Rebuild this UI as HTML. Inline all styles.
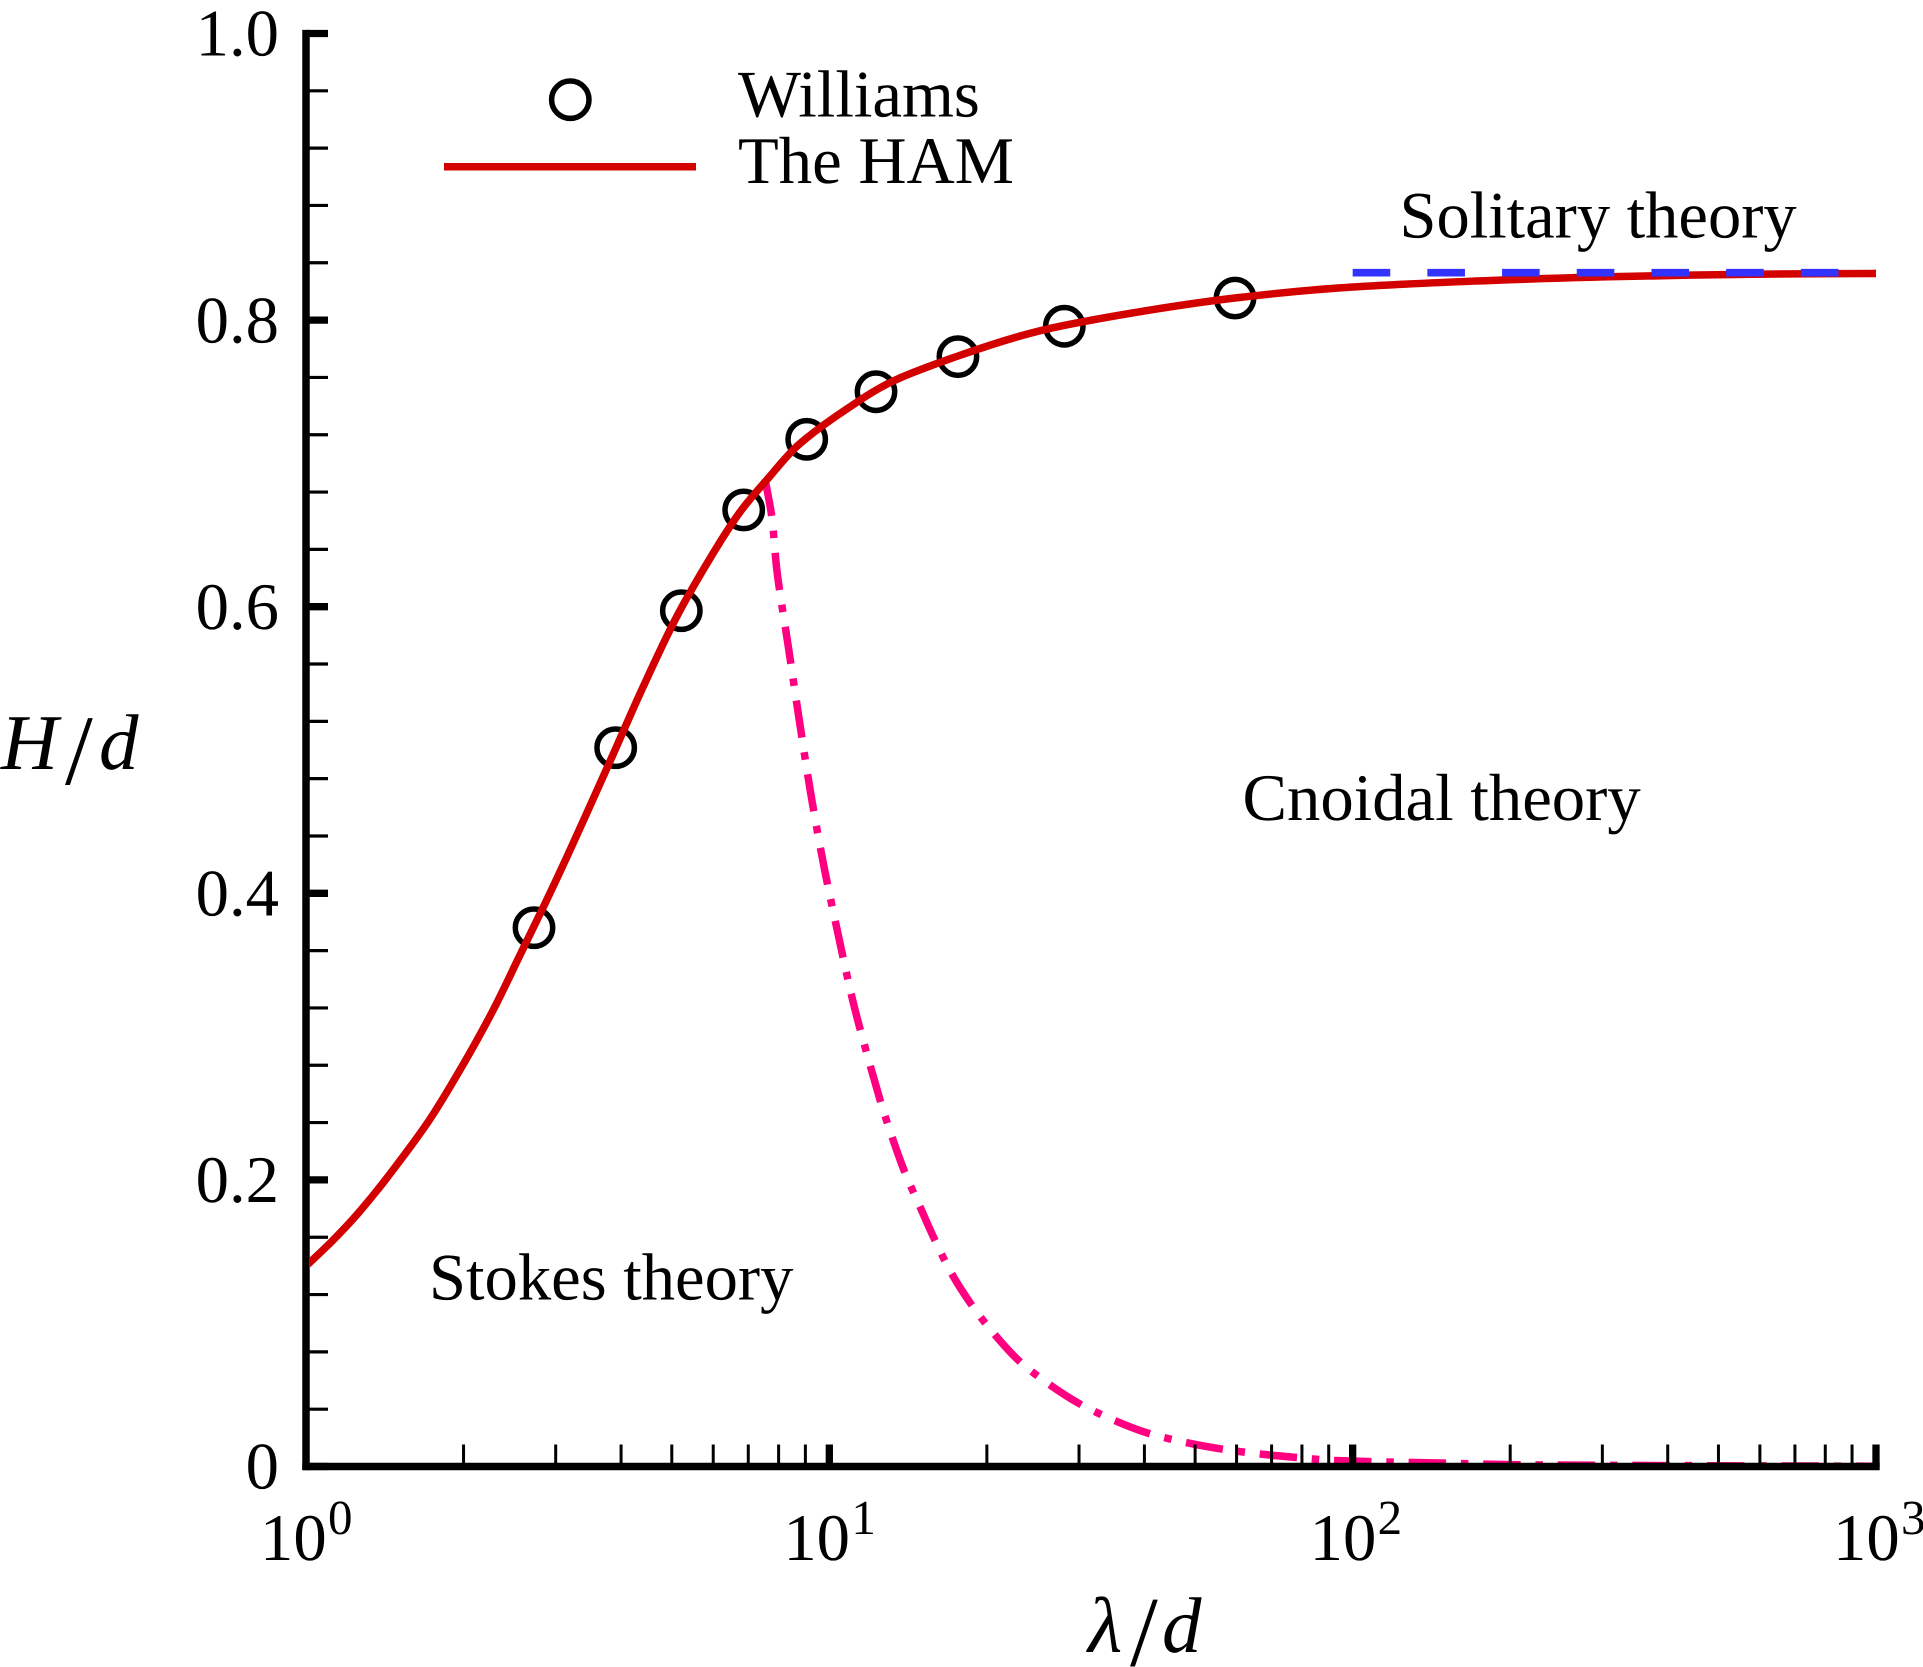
<!DOCTYPE html>
<html lang="en">
<head>
<meta charset="utf-8">
<title>H/d versus wavelength chart</title>
<style>
html,body{margin:0;padding:0;background:#fff;}
svg{display:block;}
text{font-family:"Liberation Serif",serif;fill:#000;text-rendering:geometricPrecision;}
</style>
</head>
<body>
<svg id="chart" xmlns="http://www.w3.org/2000/svg" width="1923" height="1667" viewBox="0 0 1923 1667">
  <defs>
    <clipPath id="plot-clip"><rect x="309" y="0" width="1614" height="1667"/></clipPath>
  </defs>
  <rect x="0" y="0" width="1923" height="1667" fill="#fff"/>
  <g id="layer-pink"></g>
  <g id="layer-axes"></g>
  <g id="layer-circles"></g>
  <g id="layer-red" clip-path="url(#plot-clip)"></g>
  <g id="layer-blue"></g>

  <g>
    <circle cx="570.3" cy="99.7" r="18.7" fill="none" stroke="#000" stroke-width="5.5"/>
    <text x="738" y="116.7" font-size="66.7">Williams</text>
    <line x1="444" y1="166.7" x2="696" y2="166.7" stroke="#d30000" stroke-width="7.5"/>
    <text x="738" y="183" font-size="66.7">The HAM</text>
  </g>

  <text x="1399.5" y="237.6" font-size="66.5">Solitary theory</text>
  <text x="1242.5" y="820" font-size="66.7">Cnoidal theory</text>
  <text x="429" y="1299.3" font-size="66.6">Stokes theory</text>

  <g>
    <text x="1" y="769" font-size="79" font-style="italic">H</text>
    <text x="65" y="784" font-size="100">/</text>
    <text x="99" y="769" font-size="79" font-style="italic">d</text>
  </g>
  <g>
    <text x="1088" y="1652" font-size="79" font-style="italic">λ</text>
    <text x="1130" y="1665.6" font-size="100">/</text>
    <text x="1162" y="1652" font-size="79" font-style="italic">d</text>
  </g>
</svg>
<script>
// Chart data
const xDecadeExponents = [0, 1, 2, 3];
const xMinorMultipliers = [2, 3, 4, 5, 6, 7, 8, 9];
const yMajorTicks = [0, 0.2, 0.4, 0.6, 0.8, 1.0];
const yMajorLabels = ['0', '0.2', '0.4', '0.6', '0.8', '1.0'];
const yMinorTicks = [0.04, 0.08, 0.12, 0.16, 0.24, 0.28, 0.32, 0.36, 0.44, 0.48, 0.52, 0.56, 0.64, 0.68, 0.72, 0.76, 0.84, 0.88, 0.92, 0.96];

const williamsX = [2.727, 3.906, 5.214, 6.861, 9.053, 12.28, 17.61, 28.12, 59.60];
const williamsY = [0.3760, 0.5016, 0.5972, 0.6675, 0.7168, 0.7500, 0.7745, 0.7957, 0.8154];

const hamX = [1, 1.126, 1.259, 1.422, 1.713, 1.984, 2.274, 2.564, 2.875, 3.205, 3.838, 4.380, 5.110, 6.002, 6.751, 7.591, 8.790, 11.45, 13.45, 17.51, 22.80, 28.00, 41.00, 59.60, 93.76, 172.5, 317.2, 582.1, 1000];
const hamY = [0.1399, 0.1579, 0.1769, 0.2006, 0.2407, 0.2788, 0.3179, 0.3569, 0.3943, 0.4312, 0.4947, 0.5419, 0.5931, 0.6375, 0.6661, 0.6884, 0.7139, 0.7442, 0.7586, 0.7746, 0.7882, 0.7962, 0.8070, 0.8154, 0.8224, 0.8273, 0.8303, 0.8320, 0.8325];

const limitX = [7.535, 7.762, 7.952, 8.349, 8.761, 9.213, 9.768, 10.45, 11.03, 11.45, 12.50, 13.16, 13.95, 14.90, 15.85, 17.13, 18.71, 20.73, 23.14, 26.41, 30.13, 35.15, 40.69, 48.19, 56.21, 66.52, 77.61, 92.52, 147.8, 201.6, 365.9, 1000];
const limitY = [0.6891, 0.6628, 0.6233, 0.5721, 0.5209, 0.4698, 0.4186, 0.3674, 0.3285, 0.3053, 0.2558, 0.2306, 0.2050, 0.1813, 0.1593, 0.1346, 0.1127, 0.0918, 0.0731, 0.0569, 0.0436, 0.0320, 0.0232, 0.0166, 0.0122, 0.0087, 0.0064, 0.0042, 0.0024, 0.0013, 0.0007, 0.0002];

const solitaryX = [100, 1000];
const solitaryY = [0.8331, 0.8331];

// Axis functions
const NS = 'http://www.w3.org/2000/svg';
function xScale(v) { return 306 + 523.33 * Math.log10(v); }
function yScale(v) { return 1466.5 - 1433 * v; }

function make(tag, attrs, parent) {
  const el = document.createElementNS(NS, tag);
  for (const k in attrs) el.setAttribute(k, attrs[k]);
  parent.appendChild(el);
  return el;
}

function smoothPath(xs, ys) {
  const p = xs.map((x, i) => [xScale(x), yScale(ys[i])]);
  const t = [0];
  for (let i = 1; i < p.length; i++) t.push(t[i - 1] + Math.hypot(p[i][0] - p[i - 1][0], p[i][1] - p[i - 1][1]));
  const tan = p.map((q, i) => {
    const a = Math.max(i - 1, 0), b = Math.min(i + 1, p.length - 1);
    return [(p[b][0] - p[a][0]) / (t[b] - t[a]), (p[b][1] - p[a][1]) / (t[b] - t[a])];
  });
  let d = 'M' + p[0][0].toFixed(2) + ' ' + p[0][1].toFixed(2);
  for (let i = 0; i < p.length - 1; i++) {
    const h = (t[i + 1] - t[i]) / 3;
    d += 'C' + (p[i][0] + tan[i][0] * h).toFixed(2) + ' ' + (p[i][1] + tan[i][1] * h).toFixed(2) + ' ' +
      (p[i + 1][0] - tan[i + 1][0] * h).toFixed(2) + ' ' + (p[i + 1][1] - tan[i + 1][1] * h).toFixed(2) + ' ' +
      p[i + 1][0].toFixed(2) + ' ' + p[i + 1][1].toFixed(2);
  }
  return d;
}

const axes = document.getElementById('layer-axes');
const FONT_LABEL = 66.7, FONT_SUP = 49;

// Pink limit curve
const limitLine = make('path', { d: smoothPath(limitX, limitY), fill: 'none', stroke: '#ff0080', 'stroke-width': 7.5, 'stroke-dasharray': '37.5 14.8 7.5 14.8' }, document.getElementById('layer-pink'));



// Axis spines
const yAxisLine = make('line', { x1: xScale(1), y1: yScale(1) - 3.6, x2: xScale(1), y2: yScale(0) + 3.6, stroke: '#000', 'stroke-width': 7.5 }, axes);


const xAxisLine = make('line', { x1: xScale(1) - 3.7, y1: yScale(0), x2: xScale(1000) + 3.7, y2: yScale(0), stroke: '#000', 'stroke-width': 7.5 }, axes);



// Y ticks
yMajorTicks.forEach((v, i) => {
  const t = make('line', { x1: xScale(1), y1: yScale(v), x2: xScale(1) + 22, y2: yScale(v), stroke: '#000', 'stroke-width': 7.3 }, axes);
  
  
  const l = make('text', { x: 279, y: yScale(v) + 22.2, 'font-size': FONT_LABEL, 'text-anchor': 'end' }, axes);
  l.textContent = yMajorLabels[i];
  
  
});
yMinorTicks.forEach(v => {
  const t = make('line', { x1: xScale(1), y1: yScale(v), x2: xScale(1) + 22, y2: yScale(v), stroke: '#000', 'stroke-width': 3.2 }, axes);
  
  
});

// X ticks
xDecadeExponents.forEach(e => {
  const v = Math.pow(10, e);
  const labelX = xScale(v) - (e >= 2 ? 43 : 46);
  if (e > 0) {
    const t = make('line', { x1: xScale(v), y1: yScale(0), x2: xScale(v), y2: yScale(0) - 22, stroke: '#000', 'stroke-width': 7.3 }, axes);
    
    
  }
  const base = make('text', { x: labelX, y: 1560, 'font-size': FONT_LABEL }, axes);
  base.textContent = '10';
  
  
  const sup = make('text', { x: labelX + 68, y: 1534, 'font-size': FONT_SUP }, axes);
  sup.textContent = String(e);
  
  
  if (e < 3) {
    xMinorMultipliers.forEach(m => {
      const mt = make('line', { x1: xScale(v * m), y1: yScale(0), x2: xScale(v * m), y2: yScale(0) - 22, stroke: '#000', 'stroke-width': 3 }, axes);
      
      
    });
  }
});

// Williams points
williamsX.forEach((x, i) => {
  const c = make('circle', { cx: xScale(x), cy: yScale(williamsY[i]), r: 18.7, fill: 'none', stroke: '#000', 'stroke-width': 5.5 }, document.getElementById('layer-circles'));
  
  
});

// HAM curve
const hamLine = make('path', { d: smoothPath(hamX, hamY), fill: 'none', stroke: '#d30000', 'stroke-width': 7.5 }, document.getElementById('layer-red'));



// Solitary theory dashed line
const solitaryLine = make('path', { d: smoothPath(solitaryX, solitaryY), fill: 'none', stroke: '#3333ff', 'stroke-width': 7.7, 'stroke-dasharray': '37.6 37.1' }, document.getElementById('layer-blue'));


</script>
</body>
</html>
